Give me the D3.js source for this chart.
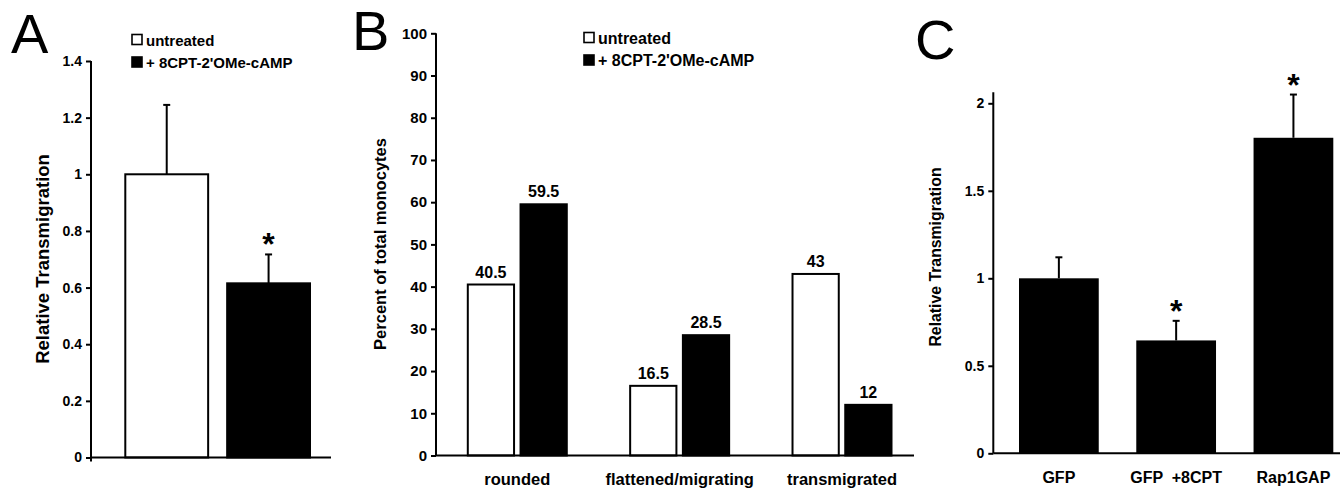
<!DOCTYPE html>
<html lang="en">
<head>
<meta charset="UTF-8">
<title>Relative transmigration and monocyte morphology</title>
<style>
  body { margin: 0; background: #fff; }
  svg { display: block; font-family: "Liberation Sans", Arial, sans-serif; }
  .tick text { font-weight: bold; fill: #000; }
  .tick line { stroke: #000; stroke-width: 2; }
  .lbl { font-weight: bold; fill: #000; }
</style>
</head>
<body>
<div id="chart"></div>
<script src="https://cdn.jsdelivr.net/npm/d3@7"></script>
<script>
// ---- panel A ----
var aSeries = ["untreated", "+ 8CPT-2'OMe-cAMP"];
var aValues = [1.0, 0.615];
var aErrors = [0.245, 0.102];
var aStars = [false, true];
var aTicks = [0, 0.2, 0.4, 0.6, 0.8, 1, 1.2, 1.4];

// ---- panel B ----
var bCategories = ["rounded", "flattened/migrating", "transmigrated"];
var bSeries = ["untreated", "+ 8CPT-2'OMe-cAMP"];
var bUntreated = [40.5, 16.5, 43];
var bTreated = [59.5, 28.5, 12];
var bTicks = [0, 10, 20, 30, 40, 50, 60, 70, 80, 90, 100];

// ---- panel C ----
var cCategories = ["GFP", "GFP  +8CPT", "Rap1GAP"];
var cValues = [1.0, 0.645, 1.803];
var cErrors = [0.12, 0.112, 0.247];
var cStars = [false, true, true];
var cTicks = [0, 0.5, 1, 1.5, 2];

var fills = ["#fff", "#000"];

var svg = d3.select("#chart").append("svg")
  .attr("width", 1340)
  .attr("height", 489);

// y axis with outward ticks, own domain line so it can run past the last tick
function drawYAxis(x, scale, ticks, top, bottom, size) {
  var g = svg.append("g")
    .attr("transform", "translate(" + x + ",0)")
    .call(d3.axisLeft(scale).tickValues(ticks).tickSize(5).tickPadding(4)
      .tickFormat(function(d) { return String(d); }));
  g.select(".domain").remove();
  g.selectAll(".tick text").style("font-size", size + "px");
  svg.append("line")
    .attr("x1", x).attr("x2", x)
    .attr("y1", top).attr("y2", bottom)
    .attr("stroke", "#000").attr("stroke-width", 2);
}

function xLine(x1, x2, y) {
  svg.append("line")
    .attr("x1", x1).attr("x2", x2)
    .attr("y1", y).attr("y2", y)
    .attr("stroke", "#000").attr("stroke-width", 2);
}

function yLabel(text, x, y, size) {
  svg.append("text")
    .attr("class", "lbl")
    .attr("transform", "translate(" + x + "," + y + ") rotate(-90)")
    .attr("text-anchor", "middle")
    .attr("dominant-baseline", "central")
    .style("font-size", size + "px")
    .text(text);
}

function panelLetter(t, x, y) {
  svg.append("text")
    .attr("x", x).attr("y", y)
    .style("font-size", "56px")
    .text(t);
}

function legend(x, y, size) {
  bSeries.forEach(function(s, i) {
    var cy = y + i * 22.5;
    svg.append("rect")
      .attr("x", x + 1).attr("y", cy - 5.5)
      .attr("width", 10).attr("height", 10)
      .attr("fill", fills[i])
      .attr("stroke", "#000").attr("stroke-width", 1.6);
    svg.append("text")
      .attr("class", "lbl")
      .attr("x", x + 15).attr("y", cy + 5.5)
      .style("font-size", size + "px")
      .text(s);
  });
}

function errorBars(data, xs, ys) {
  var g = svg.append("g").attr("stroke", "#000").attr("stroke-width", 2);
  data.forEach(function(d) {
    var cx = xs(d);
    g.append("line")
      .attr("x1", cx).attr("x2", cx)
      .attr("y1", ys(d.v)).attr("y2", ys(d.v + d.e));
    g.append("line")
      .attr("x1", cx - 3.5).attr("x2", cx + 3.5)
      .attr("y1", ys(d.v + d.e)).attr("y2", ys(d.v + d.e));
  });
  data.filter(function(d) { return d.star; }).forEach(function(d) {
    svg.append("text")
      .attr("class", "lbl")
      .attr("x", xs(d)).attr("y", ys(d.v + d.e) + 1)
      .attr("text-anchor", "middle")
      .style("font-size", "32px")
      .text("*");
  });
}

// ================= A =================
var yA = d3.scaleLinear().domain([0, 1.4]).range([457.5, 61]);
var xA = d3.scaleBand().domain(aSeries).range([124.3, 311]).paddingInner(0.167);
var aData = aSeries.map(function(s, i) {
  return { k: s, v: aValues[i], e: aErrors[i], star: aStars[i], fill: fills[i] };
});

svg.append("g").selectAll("rect")
  .data(aData).enter().append("rect")
  .attr("x", function(d) { return xA(d.k) + 1; })
  .attr("y", function(d) { return yA(d.v); })
  .attr("width", xA.bandwidth() - 2)
  .attr("height", function(d) { return yA(0) - yA(d.v); })
  .attr("fill", function(d) { return d.fill; })
  .attr("stroke", "#000").attr("stroke-width", 2);

errorBars(aData, function(d) { return xA(d.k) + xA.bandwidth() / 2; }, yA);
drawYAxis(91, yA, aTicks, 61, 461.5, 14);
xLine(91, 331, yA(0));
yLabel("Relative Transmigration", 42, 259, 18.5);
panelLetter("A", 11, 53);
legend(131, 40, 15);

// ================= B =================
var yB = d3.scaleLinear().domain([0, 100]).range([455.5, 33.3]);
var xB = d3.scaleBand().domain(bCategories).range([466.8, 892.5]).paddingInner(0.378);
var xB1 = d3.scaleBand().domain(bSeries).range([0, xB.bandwidth()]).paddingInner(0.085);
var bData = [];
bCategories.forEach(function(c, i) {
  bData.push({ c: c, s: bSeries[0], v: bUntreated[i] });
  bData.push({ c: c, s: bSeries[1], v: bTreated[i] });
});

var bBars = svg.append("g").selectAll("g")
  .data(bData).enter().append("g");
bBars.append("rect")
  .attr("x", function(d) { return xB(d.c) + xB1(d.s) + 1; })
  .attr("y", function(d) { return yB(d.v); })
  .attr("width", xB1.bandwidth() - 2)
  .attr("height", function(d) { return yB(0) - yB(d.v); })
  .attr("fill", function(d) { return fills[bSeries.indexOf(d.s)]; })
  .attr("stroke", "#000").attr("stroke-width", 2);
bBars.append("text")
  .attr("class", "lbl")
  .attr("x", function(d) { return xB(d.c) + xB1(d.s) + xB1.bandwidth() / 2; })
  .attr("y", function(d) { return yB(d.v) - 7; })
  .attr("text-anchor", "middle")
  .style("font-size", "16px")
  .text(function(d) { return d.v; });

svg.append("g").selectAll("text")
  .data(bCategories).enter().append("text")
  .attr("class", "lbl")
  .attr("x", function(d) { return xB(d) + xB.bandwidth() / 2; })
  .attr("y", 485)
  .attr("text-anchor", "middle")
  .style("font-size", "16.5px")
  .text(function(d) { return d; });

drawYAxis(436, yB, bTicks, 33.3, yB(0), 15);
xLine(436, 914, yB(0));
yLabel("Percent of total monocytes", 380, 244, 16.5);
panelLetter("B", 352, 50);
legend(583, 38, 16);

// ================= C =================
var yC = d3.scaleLinear().domain([0, 2]).range([453.3, 103.3]);
var xC = d3.scaleBand().domain(cCategories).range([1019, 1333.3]).paddingInner(0.32);
var cData = cCategories.map(function(s, i) {
  return { k: s, v: cValues[i], e: cErrors[i], star: cStars[i] };
});

svg.append("g").selectAll("rect")
  .data(cData).enter().append("rect")
  .attr("x", function(d) { return xC(d.k); })
  .attr("y", function(d) { return yC(d.v); })
  .attr("width", xC.bandwidth())
  .attr("height", function(d) { return yC(0) - yC(d.v); })
  .attr("fill", "#000");

errorBars(cData, function(d) { return xC(d.k) + xC.bandwidth() / 2; }, yC);

svg.append("g").selectAll("text")
  .data(cCategories).enter().append("text")
  .attr("class", "lbl")
  .attr("x", function(d) { return xC(d) + xC.bandwidth() / 2; })
  .attr("y", 483)
  .attr("text-anchor", "middle")
  .style("font-size", "16px")
  .style("white-space", "pre")
  .text(function(d) { return d; });

drawYAxis(993.3, yC, cTicks, 92.3, yC(0), 14);
xLine(993.3, 1340, yC(0));
yLabel("Relative Transmigration", 935, 257, 15.8);
panelLetter("C", 915, 59);
</script>
</body>
</html>
